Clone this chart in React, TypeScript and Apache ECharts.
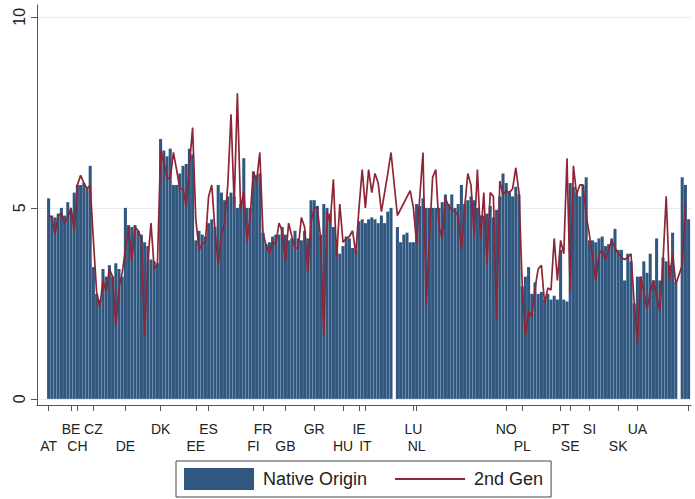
import { useEffect, useRef } from "react";
import * as echarts from "echarts";

// Country codes in display order; the last (unlabelled) group closes the axis.
const countries = [
  "AT", "BE", "CH", "CZ", "DE", "DK", "EE", "ES", "FI", "FR", "GB", "GR", "HU",
  "IE", "IT", "LU", "NL", "NO", "PL", "PT", "SE", "SI", "SK", "UA", "",
];

// Number of regions (bars) per country, same order as `countries`.
const regionCounts = [7, 2, 5, 10, 11, 11, 4, 14, 3, 7, 9, 9, 5, 2, 15, 1, 28, 5, 12, 3, 6, 9, 6, 16, 1];

// Native origin, one value per region (null = no data).
const nativeOrigin: (number | null)[] = [
  5.25, 4.8, 4.75, 4.85, 5.0, 4.8, 5.15, // AT
  4.9, 5.4, // BE
  5.6, 5.6, 5.65, 5.5, 6.1, // CH
  3.45, 2.75, 2.6, 3.4, 3.2, 3.5, 3.2, 3.55, 3.4, 3.2, // CZ
  5.0, 4.55, 4.5, 4.55, 4.4, 4.3, 4.1, 4.0, 3.65, 3.6, 3.55, // DE
  6.8, 6.5, 6.35, 6.55, 5.6, 5.6, 5.9, 6.1, 6.15, 6.55, 6.4, // DK
  4.15, 4.4, 4.3, 4.25, // EE
  4.6, 4.7, 4.5, 5.6, 5.4, 5.2, 5.3, 5.4, 5.3, 5.0, 5.1, 6.3, 5.0, 5.0, // ES
  5.95, 5.85, 5.9, // FI
  4.35, 4.05, 4.1, 4.25, 4.3, 4.3, 4.5, // FR
  4.3, 4.15, 4.2, 4.4, 4.2, 4.15, 4.4, 4.2, 5.2, // GB
  5.2, 5.05, 4.3, 5.1, 5.0, 4.85, 4.5, 4.1, 3.8, // GR
  4.0, 4.25, 4.2, 3.95, 3.9, // HU
  4.65, 4.7, // IE
  4.6, 4.7, 4.75, 4.7, 4.6, 4.8, 4.6, 4.9, 5.0, null, 4.5, 4.1, 4.3, 4.35, 4.1, // IT
  4.1, // LU
  5.1, 5.05, 5.25, 5.0, 5.0, 5.0, 5.0, 5.0, 5.15, 5.35, 5.1, 5.35, 5.0, 5.1,
  5.6, 5.1, 5.2, 5.3, 5.2, 5.0, 4.8, 4.8, 4.85, 5.05, 4.75, 4.95, 5.3, 5.9, // NL
  5.65, 5.4, 5.3, 5.55, 5.35, // NO
  2.95, 3.2, 3.45, 2.75, 3.05, 2.75, 2.8, 2.6, 2.75, 2.6, 2.7, 2.6, // PL
  3.9, 2.6, 2.55, // PT
  5.65, 5.55, 5.4, 5.3, 5.6, 5.8, // SE
  4.15, 4.15, 4.1, 4.2, 4.25, 4.0, 4.05, 4.2, 4.45, // SI
  3.9, 3.9, 3.1, 3.8, 3.6, 2.5, // SK
  3.2, 3.2, 3.6, 3.3, 3.8, 3.1, 4.2, 3.1, 3.7, 3.6, 3.5, 4.35, 3.05, null, 5.8, 5.6, // UA
  4.7,
];

// Second generation, one value per region (null = no data, line bridges the gap).
const secondGen: (number | null)[] = [
  4.8, 4.75, 4.3, 4.8, 4.85, 4.6, 4.75, // AT
  5.0, 4.4, // BE
  5.6, 5.85, 5.65, 5.5, 5.6, // CH
  4.15, 2.8, 2.4, 3.1, 2.8, 3.4, 3.2, 1.9, 2.9, 3.3, // CZ
  3.9, 4.5, 3.6, 4.5, 4.4, 4.2, 1.65, 3.6, 4.6, 3.4, 3.5, // DE
  6.5, 6.2, 5.8, 5.75, 6.45, 6.0, 5.5, 5.5, 5.05, 6.1, 7.1, // DK
  4.7, 3.9, 4.05, 4.1, // EE
  5.3, 5.6, 4.4, 3.5, 4.3, 4.6, 5.6, 7.45, 5.1, 8.0, 4.95, 5.45, 4.1, 4.8, // ES
  5.95, 5.7, 6.45, // FI
  4.35, 4.0, 3.8, 4.1, 4.05, 4.6, 4.4, // FR
  3.6, 4.6, 4.25, 3.95, 3.95, 4.75, 4.5, 3.3, 4.6, // GB
  5.0, 5.0, 4.2, 1.65, 4.9, 4.6, 5.75, 3.7, 5.1, // GR
  4.1, 4.2, 4.25, 4.4, 3.8, // HU
  5.0, 6.0, // IE
  5.0, 6.0, 5.4, 5.9, 5.65, 4.9, 5.4, 5.9, 6.45, null, 4.8, null, null, null, 5.45, // IT
  5.0, // LU
  4.07, 5.3, 6.45, 2.45, 4.2, 5.8, 6.0, 4.5, 4.2, 5.25, 5.05, 4.95, 4.9, 4.8,
  3.9, 5.0, 5.9, 5.6, 4.25, 6.0, 4.2, 5.4, 3.5, 5.4, 5.3, 2.1, 5.7, 5.35, // NL
  5.45, 5.4, 5.5, 6.05, 5.4, // NO
  3.0, 1.65, 2.3, 2.15, 2.9, 3.4, 3.5, 2.5, 2.9, 2.85, 4.2, 3.1, // PL
  4.15, 3.8, 6.3, // PT
  2.8, 6.1, 5.35, 5.6, 5.6, 4.8, // SE
  4.3, 3.7, 3.1, 3.8, 3.9, 3.65, 3.9, 4.15, 3.95, // SI
  3.8, 3.7, 3.65, 3.7, 3.8, 2.5, // SK
  1.45, 3.2, 2.8, 2.35, 2.8, 3.1, 2.7, 2.3, 3.6, 5.3, 3.1, 3.8, 3.0, 3.25, 3.5, 5.1, // UA
  null,
];

const yTicks = [0, 5, 10];

const FONT = "'Liberation Sans', Arial, Helvetica, sans-serif";
const NAVY = "#30577f";
const MAROON = "#8e2536";

// Thin horizontal stroke used as the legend key of the line series.
const LINE_KEY = "path://M0,0h70v1.8h-70z";

// First region index of every country: where the axis ticks and labels go.
const countryStarts: number[] = regionCounts.reduce<number[]>((acc, n, k) => {
  acc.push(k === 0 ? 0 : acc[k - 1] + regionCounts[k - 1]);
  return acc;
}, []);

export default function App() {
  const ref = useRef<HTMLDivElement>(null);

  useEffect(() => {
    if (!ref.current) return;
    const chart = echarts.init(ref.current, undefined, { renderer: "svg" });

    const barData = nativeOrigin.map((v, i) => [i, v]);
    const lineData = secondGen.map((v, i) => [i, v]);
    const lastIndex = nativeOrigin.length - 1;

    chart.setOption({
      animation: false,
      backgroundColor: "#ffffff",
      grid: { left: 37, right: 4, top: 5, bottom: 94, containLabel: false },
      xAxis: {
        type: "value",
        min: -3.625,
        max: lastIndex + 0.75,
        axisLine: { show: true, onZero: false, lineStyle: { color: "#555", width: 1 } },
        axisTick: {
          show: true,
          length: 6,
          customValues: countryStarts,
          lineStyle: { color: "#555", width: 1 },
        },
        axisLabel: {
          show: true,
          customValues: countryStarts,
          margin: 15,
          fontSize: 14,
          lineHeight: 17,
          color: "#222",
          fontFamily: FONT,
          formatter: (value: number) => {
            const k = countryStarts.indexOf(Math.round(value));
            if (k < 0) return "";
            const code = countries[k];
            return k % 2 === 0 ? "\n" + code : code;
          },
        },
        splitLine: { show: false },
      },
      yAxis: {
        type: "value",
        min: -0.16,
        max: 10.31,
        axisLine: { show: true, onZero: false, lineStyle: { color: "#555", width: 1 } },
        axisTick: {
          show: true,
          length: 6,
          customValues: yTicks,
          lineStyle: { color: "#555", width: 1 },
        },
        axisLabel: {
          show: true,
          customValues: yTicks,
          rotate: 90,
          margin: 10,
          fontSize: 16,
          color: "#222",
          fontFamily: FONT,
        },
        splitLine: { show: true, lineStyle: { color: "#e6edf1", width: 1 } },
      },
      legend: {
        left: 176,
        top: 461,
        orient: "horizontal",
        itemWidth: 70,
        itemHeight: 22,
        itemGap: 28,
        padding: [7, 8, 7, 8],
        borderColor: "#444",
        borderWidth: 1,
        textStyle: { fontSize: 18, color: "#222", fontFamily: FONT, padding: [0, 0, 0, 4] },
        data: [
          { name: "Native Origin", icon: "rect" },
          { name: "2nd Gen", icon: LINE_KEY },
        ],
      },
      series: [
        {
          name: "Native Origin",
          type: "bar",
          data: barData,
          barWidth: 3.05,
          itemStyle: { color: NAVY },
          z: 2,
        },
        {
          name: "2nd Gen",
          type: "line",
          data: lineData,
          connectNulls: true,
          symbol: "none",
          showSymbol: false,
          lineStyle: { color: MAROON, width: 1.7 },
          itemStyle: { color: MAROON },
          z: 3,
        },
      ],
    });

    return () => chart.dispose();
  }, []);

  return (
    <div
      ref={ref}
      style={{ position: "fixed", left: 0, top: 0, width: 695, height: 499, background: "#fff" }}
    />
  );
}
